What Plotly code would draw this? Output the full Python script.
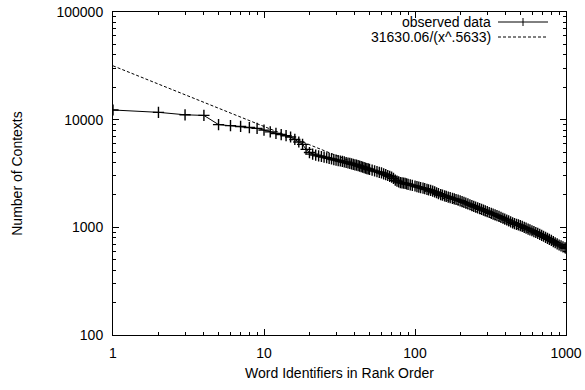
import plotly.graph_objects as go

# ---- data ----
rank = [1, 2, 3, 4, 5, 6, 7, 8, 9, 10,
        11, 12, 13, 14, 15, 16, 17, 18, 19, 20,
        21, 22, 23, 24, 25, 26, 27, 28, 29, 30,
        31, 32, 33, 34, 35, 36, 37, 38, 39, 40,
        41, 42, 43, 44, 45, 46, 47, 48, 49, 50,
        52, 54, 56, 58, 60, 62, 64, 66, 68, 70,
        72, 74, 76, 78, 80, 82, 84, 86, 88, 90,
        93, 96, 100, 103, 106, 109, 113, 116, 120, 123,
        127, 131, 135, 139, 143, 148, 152, 157, 161, 166,
        171, 177, 182, 187, 193, 199, 205, 211, 217, 224,
        231, 238, 245, 252, 260, 268, 276, 284, 292, 301,
        310, 320, 329, 339, 349, 360, 371, 382, 393, 405,
        417, 430, 443, 456, 470, 484, 498, 513, 529, 544,
        561, 577, 595, 613, 631, 650, 670, 690, 710, 732,
        754, 776, 800, 824, 848, 874, 900, 927, 955, 984,
        1000]
contexts = [12300, 11700, 11100, 10950, 9000, 8800, 8650, 8450, 8300, 8000,
            7700, 7450, 7270, 7100, 6900, 6550, 6200, 5900, 5300, 4950,
            4790, 4680, 4610, 4550, 4490, 4430, 4370, 4310, 4260, 4210,
            4170, 4130, 4090, 4050, 4000, 3960, 3920, 3880, 3850, 3810,
            3780, 3740, 3700, 3660, 3625, 3590, 3550, 3515, 3485, 3450,
            3400, 3340, 3290, 3245, 3200, 3140, 3085, 3030, 2980, 2930,
            2850, 2740, 2690, 2640, 2600, 2590, 2575, 2555, 2530, 2510,
            2480, 2455, 2420, 2390, 2365, 2340, 2310, 2290, 2255, 2230,
            2200, 2165, 2131, 2094, 2058, 2016, 1988, 1960, 1938, 1911,
            1886, 1857, 1835, 1813, 1788, 1764, 1735, 1707, 1680, 1650,
            1621, 1594, 1568, 1542, 1517, 1491, 1467, 1444, 1422, 1398,
            1374, 1349, 1328, 1306, 1284, 1262, 1239, 1215, 1193, 1170,
            1147, 1124, 1102, 1083, 1067, 1052, 1037, 1019, 999, 982,
            964, 947, 930, 912, 895, 877, 860, 843, 826, 807,
            790, 773, 755, 737, 719, 701, 685, 673, 659, 646,
            640]

FIT_A = 31630.06
FIT_B = 0.5633
fit_x = [1, 1000]
fit_y = [FIT_A / x ** FIT_B for x in fit_x]

x_tickvals = [1, 10, 100, 1000]
x_ticktext = ["1", "10", "100", "1000"]
y_tickvals = [100, 1000, 10000, 100000]
y_ticktext = ["100", "1000", "10000", "100000"]

legend_labels = ["observed data", "31630.06/(x^.5633)"]

FONT = "Liberation Sans, Arial, Helvetica, sans-serif"
FS = 14

fig = go.Figure()
fig.add_trace(go.Scatter(
    x=fit_x, y=fit_y, mode="lines",
    line=dict(color="black", width=1, dash="3px,2px"),
    name=legend_labels[1], showlegend=False,
))
fig.add_trace(go.Scatter(
    x=rank, y=contexts, mode="lines+markers",
    line=dict(color="black", width=1),
    marker=dict(symbol="cross-thin", size=8, color="black",
                line=dict(color="black", width=1.4)),
    name=legend_labels[0], showlegend=False,
))

# plot area in pixels
L, R, T, B = 113, 566, 12, 335
W, H = 585, 390
def px(xp):
    return (xp - L) / (R - L)
def py(yp):
    return (B - yp) / (B - T)

axis_common = dict(
    type="log", showgrid=False, zeroline=False, automargin=False,
    showline=True, linecolor="black", linewidth=1, mirror="allticks",
    ticks="inside", ticklen=6, tickcolor="black", tickwidth=1,
    tickfont=dict(family=FONT, size=FS, color="black"),
    minor=dict(ticks="inside", ticklen=3, tickcolor="black", tickwidth=1,
               dtick="D1", showgrid=False),
)

fig.update_layout(
    width=W, height=H,
    margin=dict(l=L, r=W - R, t=T, b=H - B),
    paper_bgcolor="white", plot_bgcolor="white",
    font=dict(family=FONT, size=FS, color="black"),
    xaxis=dict(axis_common, range=[0, 3], tickvals=x_tickvals,
               ticktext=x_ticktext, ticklabelstandoff=5,
               title=dict(text="Word Identifiers in Rank Order",
                          font=dict(family=FONT, size=FS), standoff=8)),
    yaxis=dict(axis_common, range=[2, 5], tickvals=y_tickvals,
               ticktext=y_ticktext, ticklabelstandoff=6,
               title=dict(text="Number of Contexts",
                          font=dict(family=FONT, size=FS), standoff=30)),
    showlegend=False,
)

# gnuplot-style key (text right-aligned, sample to the right)
rows = [22, 37]
for lab, yrow in zip(legend_labels, rows):
    fig.add_annotation(x=px(492), y=py(yrow), xref="paper", yref="paper",
                       text=lab, showarrow=False, xanchor="right",
                       yanchor="middle", borderpad=0,
                       font=dict(family=FONT, size=FS, color="black"))
fig.add_shape(type="line", xref="paper", yref="paper",
              x0=px(498), x1=px(548), y0=py(rows[0]), y1=py(rows[0]),
              line=dict(color="black", width=1))
fig.add_shape(type="line", xref="paper", yref="paper",
              x0=px(523), x1=px(523), y0=py(rows[0] - 4), y1=py(rows[0] + 4),
              line=dict(color="black", width=1))
fig.add_shape(type="line", xref="paper", yref="paper",
              x0=px(498), x1=px(548), y0=py(rows[1]), y1=py(rows[1]),
              line=dict(color="black", width=1, dash="3px,2px"))

fig.write_html("out.html")
